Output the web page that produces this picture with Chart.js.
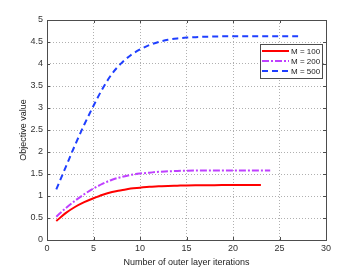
<!DOCTYPE html>
<html>
<head>
<meta charset="utf-8">
<script src="https://cdn.jsdelivr.net/npm/chart.js@4"></script>
<style>
  html, body { margin: 0; padding: 0; background: #fff; }
  #wrap { width: 360px; height: 270px; }
</style>
</head>
<body>
<div id="wrap"><canvas id="chart" width="360" height="270"></canvas></div>
<script>
// ===== data =====
const iters100 = [1,2,3,4,5,6,7,8,9,10,11,12,13,14,15,16,17,18,19,20,21,22,23];
const m100 = [0.43,0.61,0.75,0.86,0.95,1.03,1.09,1.13,1.17,1.19,1.21,1.22,1.23,1.235,1.24,1.243,1.245,1.247,1.248,1.249,1.25,1.25,1.25];

const iters200 = [1,2,3,4,5,6,7,8,9,10,11,12,13,14,15,16,17,18,19,20,21,22,23,24];
const m200 = [0.53,0.72,0.89,1.04,1.17,1.28,1.37,1.43,1.48,1.51,1.53,1.55,1.56,1.57,1.575,1.578,1.58,1.58,1.58,1.58,1.58,1.58,1.58,1.58];

const iters500 = [1,2,3,4,5,6,7,8,9,10,11,12,13,14,15,16,17,18,19,20,21,22,23,24,25,26,27];
const m500 = [1.15,1.65,2.15,2.62,3.05,3.45,3.78,4.02,4.2,4.33,4.43,4.5,4.55,4.58,4.6,4.61,4.62,4.625,4.63,4.63,4.63,4.63,4.63,4.63,4.63,4.63,4.63];

const seriesLabels = ['M = 100', 'M = 200', 'M = 500'];
const xTitle = 'Number of outer layer iterations';
const yTitle = 'Objective value';

const FONT = 'Liberation Sans, Arial, sans-serif';

function pts(xs, ys) { return xs.map((x, i) => ({ x: x, y: ys[i] })); }

// box around the plot + inward ticks, like the original figure
const boxPlugin = {
  id: 'box',
  afterDraw(chart) {
    const { ctx, chartArea: a, scales } = chart;
    ctx.save();
    ctx.strokeStyle = '#4d4d4d';
    ctx.lineWidth = 1;
    ctx.strokeRect(a.left + 0.5, a.top + 0.5, a.right - a.left, a.bottom - a.top);
    ctx.beginPath();
    scales.x.ticks.forEach(t => {
      const px = Math.round(scales.x.getPixelForValue(t.value)) + 0.5;
      ctx.moveTo(px, a.bottom); ctx.lineTo(px, a.bottom - 3);
      ctx.moveTo(px, a.top); ctx.lineTo(px, a.top + 3);
    });
    scales.y.ticks.forEach(t => {
      const py = Math.round(scales.y.getPixelForValue(t.value)) + 0.5;
      ctx.moveTo(a.left, py); ctx.lineTo(a.left + 3, py);
      ctx.moveTo(a.right, py); ctx.lineTo(a.right - 3, py);
    });
    ctx.stroke();
    ctx.restore();
  }
};

// MATLAB-style legend in the upper right of the axes
const legendBox = {
  id: 'legendBox',
  afterDraw(chart) {
    const { ctx, chartArea: a } = chart;
    const x0 = a.right - 66, y0 = a.top + 24, w = 62, h = 34;
    ctx.save();
    ctx.fillStyle = '#fff';
    ctx.fillRect(x0, y0, w, h);
    ctx.strokeStyle = '#4d4d4d';
    ctx.lineWidth = 1;
    ctx.strokeRect(x0 + 0.5, y0 + 0.5, w, h);
    ctx.font = '8px ' + FONT;
    ctx.textBaseline = 'middle';
    chart.data.datasets.forEach((ds, i) => {
      const y = y0 + 7 + i * 10;
      ctx.strokeStyle = ds.borderColor;
      ctx.lineWidth = ds.borderWidth;
      ctx.setLineDash(ds.borderDash || []);
      ctx.beginPath();
      ctx.moveTo(x0 + 2, y); ctx.lineTo(x0 + 29, y);
      ctx.stroke();
      ctx.setLineDash([]);
      ctx.fillStyle = '#222';
      ctx.fillText(ds.label, x0 + 31, y + 0.5);
    });
    ctx.restore();
  }
};

new Chart(document.getElementById('chart'), {
  type: 'line',
  data: {
    datasets: [
      {
        label: seriesLabels[0],
        data: pts(iters100, m100),
        borderColor: '#ff0000', borderWidth: 2,
        pointRadius: 0, cubicInterpolationMode: 'monotone', fill: false,
      },
      {
        label: seriesLabels[1],
        data: pts(iters200, m200),
        borderColor: '#bf40ff', borderWidth: 2, borderDash: [7, 2, 2, 2],
        pointRadius: 0, cubicInterpolationMode: 'monotone', fill: false,
      },
      {
        label: seriesLabels[2],
        data: pts(iters500, m500),
        borderColor: '#1f3fff', borderWidth: 2, borderDash: [6, 4],
        pointRadius: 0, cubicInterpolationMode: 'monotone', fill: false,
      }
    ]
  },
  options: {
    responsive: false,
    animation: false,
    devicePixelRatio: 1,
    layout: { padding: { left: 0, top: 20, right: 34, bottom: 0 } },
    plugins: { legend: { display: false }, tooltip: { enabled: false } },
    scales: {
      x: {
        type: 'linear', min: 0, max: 30,
        afterFit(s) { s.height = 30; },
        ticks: { stepSize: 5, color: '#333', padding: 3, font: { family: FONT, size: 9 } },
        grid: { color: '#b0b0b0', tickLength: 0, drawTicks: false },
        border: { display: false, dash: [1, 2] },
        title: { display: true, text: xTitle, color: '#222', padding: { top: 0, bottom: 2 }, font: { family: FONT, size: 9 } }
      },
      y: {
        type: 'linear', min: 0, max: 5,
        afterFit(s) { s.width = 47; },
        ticks: {
          stepSize: 0.5, color: '#333', padding: 4, font: { family: FONT, size: 9 },
          callback: v => String(Math.round(v * 10) / 10)
        },
        grid: { color: '#b0b0b0', tickLength: 0, drawTicks: false },
        border: { display: false, dash: [1, 2] },
        title: { display: true, text: yTitle, color: '#222', padding: { top: 18, bottom: 0 }, font: { family: FONT, size: 9 } }
      }
    }
  },
  plugins: [boxPlugin, legendBox]
});
</script>
</body>
</html>
